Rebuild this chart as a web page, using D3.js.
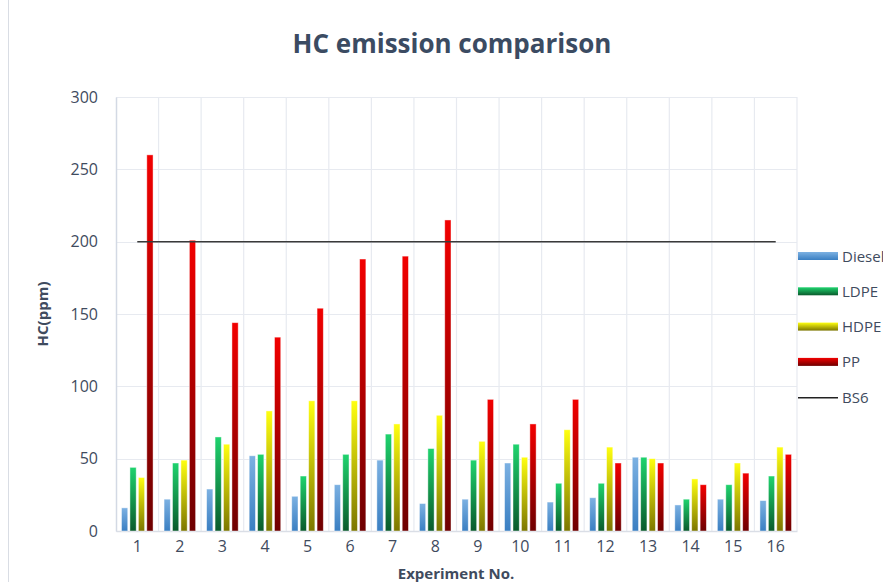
<!DOCTYPE html>
<meta charset="utf-8">
<style>
  body { margin: 0; background: #fff; }
  svg text { font-family: "Open Sans", "Noto Sans", sans-serif; fill: #3f4b5e; }
</style>
<script src="https://d3js.org/d3.v7.min.js"></script>
<div id="chart"></div>
<script>

// data
var experiments = ["1","2","3","4","5","6","7","8","9","10","11","12","13","14","15","16"];
var diesel = [16, 22, 29, 52, 24, 32, 49, 19, 22, 47, 20, 23, 51, 18, 22, 21];
var ldpe   = [44, 47, 65, 53, 38, 53, 67, 57, 49, 60, 33, 33, 51, 22, 32, 38];
var hdpe   = [37, 49, 60, 83, 90, 90, 74, 80, 62, 51, 70, 58, 50, 36, 47, 58];
var pp     = [260, 201, 144, 134, 154, 188, 190, 215, 91, 74, 91, 47, 47, 32, 40, 53];
var bs6    = [200, 200, 200, 200, 200, 200, 200, 200, 200, 200, 200, 200, 200, 200, 200, 200];
var yTicks = [0, 50, 100, 150, 200, 250, 300];

var seriesNames = ["Diesel", "LDPE", "HDPE", "PP"];
var seriesData = [diesel, ldpe, hdpe, pp];
// top colour, bottom colour
var colors = {
  Diesel: ["#7cb1e2", "#3a7fc2"],
  LDPE:   ["#1fd36e", "#0a5a2c"],
  HDPE:   ["#ffff10", "#7c7600"],
  PP:     ["#f20000", "#6e0000"]
};

var W = 883, H = 582;
var margin = {top: 97, right: 86, bottom: 51, left: 116},
    width = W - margin.left - margin.right,
    height = H - margin.top - margin.bottom;

var svg = d3.select("#chart").append("svg")
    .attr("width", W)
    .attr("height", H);

// gradients for bars
var defs = svg.append("defs");
seriesNames.forEach(function(s) {
  var g = defs.append("linearGradient")
      .attr("id", "grad-" + s)
      .attr("x1", 0).attr("y1", 0).attr("x2", 0).attr("y2", 1);
  g.append("stop").attr("offset", "0%").attr("stop-color", colors[s][0]);
  g.append("stop").attr("offset", "100%").attr("stop-color", colors[s][1]);
});

// outer chart border (left side visible)
svg.append("line")
    .attr("x1", 8.5).attr("x2", 8.5).attr("y1", 0).attr("y2", H)
    .attr("stroke", "#d9dde4");

// title
svg.append("text")
    .attr("x", 452).attr("y", 53)
    .attr("text-anchor", "middle")
    .style("font-size", "26px")
    .style("font-weight", "bold")
    .style("fill", "#3b4b62")
    .text("HC emission comparison");

var g = svg.append("g")
    .attr("transform", "translate(" + margin.left + "," + margin.top + ")");

var x0 = d3.scaleBand()
    .domain(experiments)
    .range([0, width])
    .padding(0);

var x1 = d3.scaleBand()
    .domain(seriesNames)
    .range([5.5, x0.bandwidth() - 5.5])
    .paddingInner(0.26)
    .paddingOuter(0);

var y = d3.scaleLinear()
    .domain([0, 300])
    .range([height, 0]);

// horizontal gridlines
g.append("g")
    .selectAll("line")
    .data(yTicks)
    .join("line")
    .attr("x1", 0).attr("x2", width)
    .attr("y1", function(d) { return Math.round(y(d)) + 0.5; })
    .attr("y2", function(d) { return Math.round(y(d)) + 0.5; })
    .attr("stroke", "#e7eaf0")
    .attr("stroke-width", 1.2);

// vertical gridlines between categories
g.append("g")
    .selectAll("line")
    .data(experiments)
    .join("line")
    .attr("x1", function(d) { return x0(d) + x0.bandwidth(); })
    .attr("x2", function(d) { return x0(d) + x0.bandwidth(); })
    .attr("y1", 0).attr("y2", height)
    .attr("stroke", "#e7eaf0")
    .attr("stroke-width", 1.2);

// y axis
var yAxis = g.append("g")
    .call(d3.axisLeft(y).tickValues(yTicks).tickSize(0).tickPadding(18));
yAxis.select(".domain").attr("stroke", "#d3d9e4").attr("stroke-width", 1.5);
yAxis.selectAll("text")
    .style("font-size", "16px")
    .style("font-family", "'Open Sans', sans-serif")
    .attr("fill", "#3f4b5e");

// x axis
var xAxis = g.append("g")
    .attr("transform", "translate(0," + height + ")")
    .call(d3.axisBottom(x0).tickSize(0).tickPadding(10));
xAxis.select(".domain").attr("stroke", "#dadee6").attr("stroke-width", 1.5);
xAxis.selectAll("text")
    .style("font-size", "16px")
    .style("font-family", "'Open Sans', sans-serif")
    .attr("fill", "#3f4b5e");

// bars
var rows = experiments.map(function(e, i) {
  return {exp: e, values: seriesNames.map(function(s, k) { return {key: s, value: seriesData[k][i]}; })};
});

g.append("g")
  .selectAll("g")
  .data(rows)
  .join("g")
    .attr("transform", function(d) { return "translate(" + x0(d.exp) + ",0)"; })
  .selectAll("rect")
  .data(function(d) { return d.values; })
  .join("rect")
    .attr("x", function(d) { return x1(d.key); })
    .attr("y", function(d) { return y(d.value); })
    .attr("width", x1.bandwidth())
    .attr("height", function(d) { return height - y(d.value); })
    .attr("fill", function(d) { return "url(#grad-" + d.key + ")"; })
    .attr("stroke", "#ffffff")
    .attr("stroke-opacity", 0.55)
    .attr("stroke-width", 0.8);

// BS6 line
var line = d3.line()
    .x(function(d, i) { return x0(experiments[i]) + x0.bandwidth() / 2; })
    .y(function(d) { return y(d); });
g.append("path")
    .datum(bs6)
    .attr("d", line)
    .attr("fill", "none")
    .attr("stroke", "#3a3a3a")
    .attr("stroke-width", 1.5);

// axis titles
svg.append("text")
    .attr("transform", "translate(48,314) rotate(-90)")
    .attr("text-anchor", "middle")
    .style("font-size", "15px")
    .style("font-weight", "bold")
    .text("HC(ppm)");

svg.append("text")
    .attr("x", 456).attr("y", 579)
    .attr("text-anchor", "middle")
    .style("font-size", "15px")
    .style("font-weight", "bold")
    .text("Experiment No.");

// legend
var legendItems = seriesNames.concat(["BS6"]);
var legend = svg.append("g")
    .attr("transform", "translate(798,256)");
var li = legend.selectAll("g")
    .data(legendItems)
    .join("g")
    .attr("transform", function(d, i) { return "translate(0," + (i * 35.3) + ")"; });
li.each(function(d) {
  var sel = d3.select(this);
  if (d === "BS6") {
    sel.append("line")
        .attr("x1", 0).attr("x2", 40).attr("y1", 0.5).attr("y2", 0.5)
        .attr("stroke", "#222").attr("stroke-width", 1.5);
  } else {
    sel.append("rect")
        .attr("x", 0).attr("y", -4).attr("width", 40).attr("height", 8)
        .attr("fill", "url(#grad-" + d + ")");
  }
});
li.append("text")
    .attr("x", 44).attr("y", 5.5)
    .style("font-size", "15px")
    .text(function(d) { return d; });

</script>
